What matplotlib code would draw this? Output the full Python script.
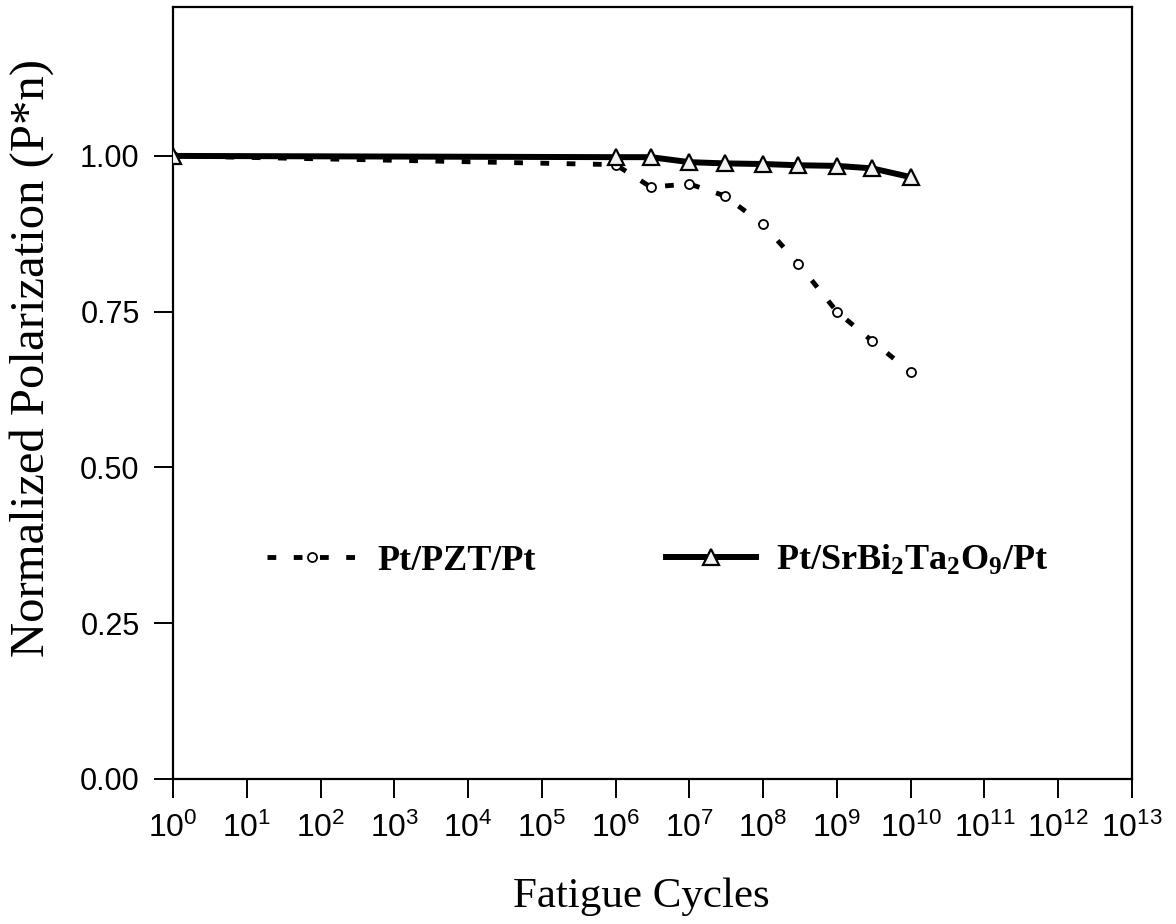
import numpy as np
import matplotlib.pyplot as plt
from matplotlib.ticker import FixedLocator, NullLocator

plt.rcParams['font.family'] = ['Liberation Sans', 'DejaVu Sans']

# fatigue data, normalized polarization vs. number of switching cycles
cycles = [1e0, 1e6, 3e6, 1e7, 3e7, 1e8, 3e8, 1e9, 3e9, 1e10]
pzt = [1.000, 0.986, 0.950, 0.955, 0.936, 0.890, 0.827, 0.750, 0.703, 0.653]
sbt = [1.000, 0.998, 0.998, 0.990, 0.988, 0.987, 0.985, 0.984, 0.980, 0.966]

pzt_label = 'Pt/PZT/Pt'
sbt_label = r'$\mathregular{Pt/SrBi_2Ta_2O_9/Pt}$'

x_decades = np.arange(0, 14)
y_ticks = [0.00, 0.25, 0.50, 0.75, 1.00]

fig = plt.figure(figsize=(11.76, 9.24), dpi=100)
ax = fig.add_axes([173/1176, 1 - 779/924, (1132 - 173)/1176, (779 - 7)/924])

ax.plot(cycles, pzt, color='black', lw=3.5, linestyle=(0, (1.8, 3.6)),
        marker='o', ms=6.5, mfc='white', mec='black', mew=1.3,
        label=pzt_label, zorder=3)
ax.plot(cycles, sbt, color='black', lw=4.3, linestyle='-',
        marker='^', ms=11.5, mfc='#f2f2f2', mec='black', mew=1.6,
        label=sbt_label, zorder=4)

ax.set_xscale('log')
ax.set_xlim(1, 1e13)
ax.set_ylim(0, 1.239)
ax.xaxis.set_major_locator(FixedLocator(10.0 ** x_decades))
ax.xaxis.set_minor_locator(NullLocator())
ax.set_xticklabels([r'$\mathregular{10^{%d}}$' % d for d in x_decades])
ax.set_yticks(y_ticks)
ax.set_yticklabels(['%.2f' % v for v in y_ticks])

ax.tick_params(direction='out', length=14, width=1.4, pad=10,
               top=False, right=False)
ax.tick_params(axis='x', labelsize=23)
ax.tick_params(axis='y', labelsize=22)
for s in ax.spines.values():
    s.set_linewidth(1.6)

ax.set_xlabel('Fatigue Cycles', family='Liberation Serif', fontsize=31)
ax.xaxis.set_label_coords(0.488, -0.127)
ax.set_ylabel('Normalized Polarization (P*n)', family='Liberation Serif',
              fontsize=35)
ax.yaxis.set_label_coords(-0.124, 0.545)

leg = ax.legend(loc='center', bbox_to_anchor=(0.505, 0.283), ncol=2,
                frameon=False, numpoints=1, handlelength=2.5,
                handletextpad=0.55, columnspacing=3.6,
                prop={'family': 'Liberation Serif', 'weight': 'bold',
                      'size': 26})

fig.savefig('out.png', dpi=100)
